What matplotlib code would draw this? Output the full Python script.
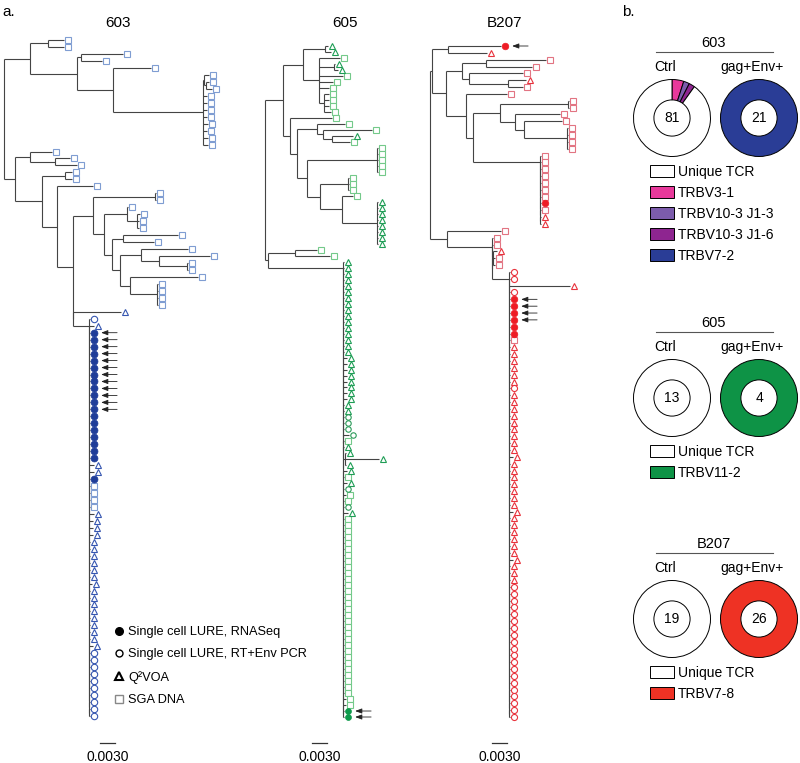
import matplotlib
matplotlib.use("Agg")
import matplotlib.pyplot as plt
import matplotlib.transforms as mtransforms
from matplotlib.collections import LineCollection
from matplotlib.lines import Line2D
from matplotlib.patches import Patch

plt.rcParams['font.family'] = ['Liberation Sans', 'DejaVu Sans']


def run(code, n, bl=1):
    # n identical tips in a row
    return ",".join([f"{code}:{bl}"] * n)


# ---- trees (newick-like; s=SGA DNA, t=Q2VOA, o=RT+Env PCR, f=RNASeq, F=RNASeq + arrow)
# branch lengths in units of 0.0002 subst/site; [..] = ladder of zero-length nodes
A_603 = ("((s:16,s:16):18,((s:42,s:21):4,"
         "(s:38,((s:5,(s:3,s:6):2):1,s:4,s:4,s:4,s:4,s:5,s:4,s:5,s:5):90):36):47):26")
E1_603 = "(s:1,(s:3,s:2,s:2):10):23"
F1_603 = "(s:47,(s:51,(s:1,s:1):28):18):21"
F2_603 = "(s:68,(s:1,s:1,s:1,s:1):27):10"
E2_603 = "((s:55,s:31):11,(" + F1_603 + "," + F2_603 + "):8):8"
D1_603 = "((s:1,s:1):62,(" + E1_603 + "," + E2_603 + "):11):20"
G_603 = ("[o:1,t:5," + run('F', 12) + "," + run('f', 7) + ",t:5,t:5,f:1," + run('s', 4)
         + ",t:5,t:4,t:4,t:4," + run('t', 6) + ",t:3," + run('t', 8) + ",t:4," + run('o', 10) + "]:16")
B_603 = ("((s:22,(s:15,s:22):25):15,((s:7,s:7):23,(s:36,[" + D1_603 + ",t:48,"
         + G_603 + "]:16):15):27):11")
TREE_603 = "(" + A_603 + "," + B_603 + ")"

T1_605 = "((t:3,t:6):22,(s:21,(t:1,t:4):15,s:24,s:14,s:10,(s:5,s:5,s:5,s:7):5):16):20"
N1_605 = "(s:28,(s:49,(t:21,s:18):9):6):20"
M_605 = ("((s:1,s:1,s:1,s:1,s:1):70,((s:1,s:1,s:1):28,(s:11,(" + run('t', 8) + "):35):22):13):10")
T2_605 = "(s:42,(" + N1_605 + "," + M_605 + "):7):7"
COL_605 = ("[" + run('t', 16) + "," + run('t', 8, 4) + ",t:1,t:1,o:1,o:1,o:1,o:6,s:1,t:1,"
           "(t:1,t:34,t:1):2,t:4,s:1,t:4,o:1,s:3,s:1,o:1,t:5," + run('s', 30) + ",s:3,s:3,F:1,F:1]:75")
TREE_605 = "((" + T1_605 + "," + T2_605 + "):18,((s:22,s:35):27," + COL_605 + "):3)"

U1_B207 = "(F:53,t:39):16"
V1_B207 = "((s:60,s:46):24,(s:54,(t:18,s:15):39):7):16"
W1_B207 = "((s:1,s:1):68,(s:45,(s:38,(s:1,s:1,s:1,s:1):43):9):15):27"
C1_B207 = "[" + run('s', 7) + ",f:1,s:1,t:1,t:1]:67"
V2_B207 = "(s:41,(" + W1_B207 + "," + C1_B207 + "):7):20"
C2_B207 = ("[o:1,o:1,t:61,o:1," + run('F', 4) + "," + run('f', 2) + ",s:1," + run('t', 6) + ",o:1,"
           + run('t', 9) + ",t:4," + run('t', 7) + ",t:4," + run('t', 6) + ",t:4," + run('t', 3) + ","
           + run('o', 20) + "]:17")
TREE_B207 = ("((" + U1_B207 + ",(" + V1_B207 + "," + V2_B207 + "):14):2,"
             "(s:54,[s:1,s:1,(t:4,s:2,s:2):1," + C2_B207 + "]:45):17)")

LEN_UNIT = 0.0002
SCALE_BAR = 0.0030

# ---- panel b data
GROUPS = ['603', '605', 'B207']
CTRL_TOTAL = [81, 13, 19]
GAG_TOTAL = [21, 4, 26]
CTRL_LABELS = [['TRBV3-1', 'TRBV10-3 J1-3', 'TRBV10-3 J1-6', 'Unique TCR'], ['Unique TCR'], ['Unique TCR']]
CTRL_VALUES = [[4, 2, 2, 73], [13], [19]]
GAG_LABELS = [['TRBV7-2'], ['TRBV11-2'], ['TRBV7-8']]
GAG_VALUES = [[21], [4], [26]]
LEGEND_LABELS = [['Unique TCR', 'TRBV3-1', 'TRBV10-3 J1-3', 'TRBV10-3 J1-6', 'TRBV7-2'],
                 ['Unique TCR', 'TRBV11-2'],
                 ['Unique TCR', 'TRBV7-8']]
TCR_COLORS = {'Unique TCR': 'white', 'TRBV3-1': '#e8399b', 'TRBV10-3 J1-3': '#7c5cac',
              'TRBV10-3 J1-6': '#8e2590', 'TRBV7-2': '#2a3d96', 'TRBV11-2': '#0e9346',
              'TRBV7-8': '#ee3224'}


def parse(text):
    pos = 0

    def length():
        nonlocal pos
        if pos < len(text) and text[pos] == ':':
            pos += 1
            start = pos
            while pos < len(text) and (text[pos].isdigit() or text[pos] == '.'):
                pos += 1
            return float(text[start:pos])
        return 0.0

    def node():
        nonlocal pos
        ch = text[pos]
        if ch in '([':
            pos += 1
            kids = [node()]
            while text[pos] == ',':
                pos += 1
                kids.append(node())
            pos += 1
            if ch == '[' and len(kids) > 2:
                inner = kids[-1]
                for k in reversed(kids[1:-1]):
                    inner = {'kids': [k, inner], 'len': 0.0}
                kids = [kids[0], inner]
            n = {'kids': kids}
        else:
            pos += 1
            n = {'kind': ch}
        n['len'] = length()
        return n

    return node()


def layout(n, x0, tips, segs):
    x = x0 + n['len']
    if 'kind' in n:
        y = len(tips)
        tips.append((x, y, n['kind']))
    else:
        ys = [layout(k, x, tips, segs) for k in n['kids']]
        y = (ys[0] + ys[-1]) / 2
        segs.append([(x, ys[0]), (x, ys[-1])])
    if n['len'] > 0:
        segs.append([(x0, y), (x, y)])
    return y


W, H = 800, 763
fig = plt.figure(figsize=(W / 100, H / 100), dpi=100)

trees = [
    dict(name='603', newick=TREE_603, span=(0, 258), root=4, top=40, bottom=716, title_x=118, bar=96,
         ms=1.0, cols=dict(s='#7f9dd2', t='#3656b0', o='#3656b0', f='#1f3d99')),
    dict(name='605', newick=TREE_605, span=(258, 420), root=265, top=46, bottom=717, title_x=345, bar=47,
         ms=0.85, cols=dict(s='#74c98a', t='#1f9d55', o='#2a9a58', f='#0f9a4c')),
    dict(name='B207', newick=TREE_B207, span=(420, 615), root=430, top=46, bottom=717, title_x=505, bar=62,
         ms=0.95, cols=dict(s='#e27482', t='#e8323c', o='#e8323c', f='#ee1c25')),
]

for tr in trees:
    tips, segs = [], []
    layout(parse(tr['newick']), 0.0, tips, segs)
    a, b = tr['span']
    sp = (tr['bottom'] - tr['top']) / (len(tips) - 1)
    ax = fig.add_axes([a / W, 0, (b - a) / W, 1])
    ax.axis('off')
    ax.add_collection(LineCollection(segs, colors='#444444', linewidths=0.8), autolim=False)
    ax.set_xlim(a - tr['root'], b - tr['root'])
    ax.set_ylim((H - tr['top']) / sp, -tr['top'] / sp)

    off = mtransforms.offset_copy(ax.transData, fig=fig, x=3.5, y=0, units='dots')
    c, k = tr['cols'], tr['ms']
    styles = {
        's': dict(marker='s', ms=4.3 * k, mfc='white', mec=c['s'], mew=0.8),
        't': dict(marker='^', ms=5.0 * k, mfc='white', mec=c['t'], mew=0.8),
        'o': dict(marker='o', ms=4.6 * k, mfc='white', mec=c['o'], mew=0.8),
        'f': dict(marker='o', ms=5.0 * k, mfc=c['f'], mec=c['f'], mew=0.5),
    }
    for kind, st in styles.items():
        xs = [x for x, y, kd in tips if kd.lower() == kind]
        ys = [y for x, y, kd in tips if kd.lower() == kind]
        ax.plot(xs, ys, ls='none', transform=off, clip_on=False, **st)
    for x, y, kd in tips:
        if kd == 'F':
            ax.annotate('', xy=(x, y), xycoords=off, xytext=(17, 0), textcoords='offset points',
                        arrowprops=dict(arrowstyle='-|>,head_length=0.4,head_width=0.15', lw=0.6,
                                        color='#222222', shrinkA=0, shrinkB=5.5))

    bar_len = SCALE_BAR / LEN_UNIT
    ax.plot([tr['bar'], tr['bar'] + bar_len], [(743 - tr['top']) / sp] * 2, color='#333333', lw=0.9)
    ax.text(tr['bar'] + bar_len / 2, (757 - tr['top']) / sp, f"{SCALE_BAR:.4f}", ha='center',
            va='center', fontsize=10)
    fig.text(tr['title_x'] / W, 1 - 23 / H, tr['name'], ha='center', va='center', fontsize=11)

fig.text(2 / W, 1 - 12 / H, 'a.', ha='left', va='center', fontsize=11)
fig.text(622 / W, 1 - 12 / H, 'b.', ha='left', va='center', fontsize=11)

leg_handles = [
    Line2D([], [], ls='none', marker='o', ms=5.5, mfc='black', mec='black'),
    Line2D([], [], ls='none', marker='o', ms=5, mfc='none', mec='black', mew=1.0),
    Line2D([], [], ls='none', marker='^', ms=6, mfc='none', mec='black', mew=1.5),
    Line2D([], [], ls='none', marker='s', ms=5.5, mfc='none', mec='#888888', mew=1.0),
]
leg_labels = ['Single cell LURE, RNASeq', 'Single cell LURE, RT+Env PCR', 'Q²VOA', 'SGA DNA']
fig.legend(leg_handles, leg_labels, loc='upper left', bbox_to_anchor=(113 / W, 1 - 626 / H),
           frameon=False, fontsize=9.2, handlelength=1.0, handletextpad=0.2, labelspacing=0.82,
           borderpad=0, borderaxespad=0)

# ---- panel b: donuts
R = 38.5
pad = 2
centers_y = [118, 398, 619]
for g, cy in enumerate(centers_y):
    fig.text(714 / W, 1 - (cy - 75) / H, GROUPS[g], ha='center', va='center', fontsize=10.5)
    fig.add_artist(Line2D([656 / W, 773 / W], [1 - (cy - 66) / H] * 2, transform=fig.transFigure,
                          color='#555555', lw=0.8))
    donuts = [(672, 'Ctrl', CTRL_VALUES[g], CTRL_LABELS[g], CTRL_TOTAL[g]),
              (759, 'gag+Env+', GAG_VALUES[g], GAG_LABELS[g], GAG_TOTAL[g])]
    for cx, head, vals, labs, total in donuts:
        s = R + pad
        dax = fig.add_axes([(cx - s) / W, 1 - (cy + s) / H, 2 * s / W, 2 * s / H])
        dax.pie(vals, colors=[TCR_COLORS[l] for l in labs], startangle=90, counterclock=False,
                radius=1, wedgeprops=dict(width=0.53, edgecolor='black', linewidth=0.7))
        dax.set_xlim(-s / R, s / R)
        dax.set_ylim(-s / R, s / R)
        dax.text(0, 0, str(total), ha='center', va='center', fontsize=10)
        fig.text((cx - 7) / W, 1 - (cy - 51) / H, head, ha='center', va='center', fontsize=10)
    handles = [Patch(facecolor=TCR_COLORS[l], edgecolor='black', linewidth=0.7) for l in LEGEND_LABELS[g]]
    fig.legend(handles, LEGEND_LABELS[g], loc='upper left', bbox_to_anchor=(650 / W, 1 - (cy + 47) / H),
               frameon=False, fontsize=10, handlelength=1.75, handleheight=0.95, handletextpad=0.25,
               labelspacing=0.5, borderpad=0, borderaxespad=0)

fig.savefig('out.png', dpi=100)
